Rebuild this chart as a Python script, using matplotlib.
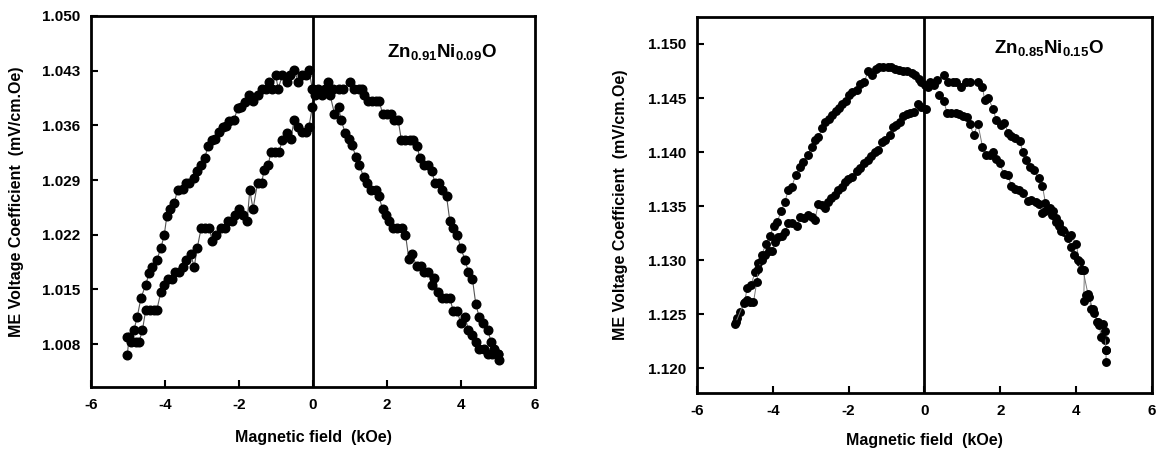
import matplotlib
matplotlib.use("Agg")
import matplotlib.pyplot as plt
from matplotlib import font_manager

# ---------------- data : Zn0.91Ni0.09O ----------------
a_x1 = [-5.02, -4.97, -4.84, -4.75, -4.65, -4.52, -4.43, -4.34, -4.22, -4.11, -4.02, -3.95, -3.86,
        -3.75, -3.66, -3.52, -3.43, -3.34, -3.21, -3.13, -3.02, -2.93, -2.83, -2.74, -2.64, -2.53,
        -2.43, -2.35, -2.26, -2.14, -2.03, -1.94, -1.85, -1.73, -1.62, -1.50, -1.39, -1.26, -1.20,
        -1.12, -1.01, -0.94, -0.83, -0.71, -0.63, -0.51, -0.40, -0.29, -0.20, -0.11, -0.02]
a_y1 = [1.0066, 1.0089, 1.0098, 1.0115, 1.0139, 1.0156, 1.0171, 1.0179, 1.0188, 1.0203, 1.0220,
        1.0244, 1.0253, 1.0261, 1.0277, 1.0278, 1.0286, 1.0286, 1.0292, 1.0301, 1.0309, 1.0318,
        1.0334, 1.0341, 1.0342, 1.0351, 1.0358, 1.0359, 1.0366, 1.0367, 1.0382, 1.0383, 1.0390,
        1.0399, 1.0391, 1.0399, 1.0407, 1.0407, 1.0416, 1.0407, 1.0424, 1.0407, 1.0424, 1.0416,
        1.0424, 1.0431, 1.0416, 1.0424, 1.0424, 1.0431, 1.0407]
a_x2 = [0.05, 0.24, 0.46, 0.58, 0.69, 0.76, 0.87, 0.96, 1.05, 1.16, 1.25, 1.37, 1.46, 1.58, 1.70,
        1.78, 1.88, 1.96, 2.05, 2.16, 2.27, 2.41, 2.50, 2.59, 2.68, 2.80, 2.91, 3.00, 3.12, 3.21,
        3.27, 3.39, 3.48, 3.59, 3.70, 3.79, 3.90, 3.99, 4.11, 4.20, 4.29, 4.40, 4.49, 4.63, 4.72,
        4.84, 4.99, 5.02]
a_y2 = [1.0399, 1.0399, 1.0399, 1.0375, 1.0383, 1.0367, 1.0350, 1.0343, 1.0335, 1.0320, 1.0309,
        1.0294, 1.0286, 1.0277, 1.0277, 1.0269, 1.0253, 1.0245, 1.0237, 1.0228, 1.0228, 1.0228,
        1.0220, 1.0189, 1.0195, 1.0180, 1.0180, 1.0172, 1.0172, 1.0156, 1.0164, 1.0147, 1.0139,
        1.0139, 1.0139, 1.0122, 1.0122, 1.0107, 1.0115, 1.0098, 1.0091, 1.0082, 1.0074, 1.0074,
        1.0067, 1.0067, 1.0067, 1.0060]
a_x3 = [0.00, 0.14, 0.33, 0.40, 0.55, 0.69, 0.82, 0.99, 1.10, 1.23, 1.32, 1.39, 1.49, 1.59, 1.70,
        1.79, 1.88, 2.00, 2.12, 2.18, 2.30, 2.39, 2.50, 2.61, 2.70, 2.82, 2.88, 3.00, 3.12, 3.21,
        3.30, 3.41, 3.50, 3.61, 3.70, 3.79, 3.90, 3.99, 4.11, 4.20, 4.31, 4.40, 4.49, 4.60, 4.72,
        4.82, 4.90, 5.00]
a_y3 = [1.0407, 1.0407, 1.0407, 1.0416, 1.0407, 1.0407, 1.0407, 1.0416, 1.0407, 1.0407, 1.0407,
        1.0399, 1.0391, 1.0391, 1.0391, 1.0391, 1.0375, 1.0375, 1.0375, 1.0367, 1.0367, 1.0341,
        1.0341, 1.0341, 1.0341, 1.0334, 1.0318, 1.0309, 1.0309, 1.0301, 1.0286, 1.0286, 1.0277,
        1.0269, 1.0237, 1.0228, 1.0220, 1.0203, 1.0188, 1.0172, 1.0163, 1.0131, 1.0115, 1.0107,
        1.0098, 1.0082, 1.0074, 1.0067]
a_x4 = [-0.02, -0.11, -0.20, -0.29, -0.40, -0.51, -0.60, -0.71, -0.83, -0.92, -1.03, -1.14, -1.21,
        -1.32, -1.39, -1.50, -1.62, -1.71, -1.78, -1.89, -2.01, -2.12, -2.19, -2.30, -2.39, -2.50,
        -2.62, -2.73, -2.80, -2.92, -3.02, -3.13, -3.21, -3.31, -3.43, -3.52, -3.61, -3.73, -3.82,
        -3.93, -4.02, -4.11, -4.22, -4.31, -4.40, -4.52, -4.61, -4.70, -4.79, -4.93, -5.02]
a_y4 = [1.0383, 1.0358, 1.0351, 1.0351, 1.0358, 1.0367, 1.0342, 1.0350, 1.0341, 1.0326, 1.0326,
        1.0326, 1.0309, 1.0303, 1.0286, 1.0286, 1.0253, 1.0277, 1.0237, 1.0245, 1.0253, 1.0245,
        1.0237, 1.0237, 1.0229, 1.0229, 1.0220, 1.0212, 1.0229, 1.0229, 1.0229, 1.0203, 1.0179,
        1.0195, 1.0188, 1.0179, 1.0172, 1.0172, 1.0163, 1.0163, 1.0156, 1.0147, 1.0124, 1.0124,
        1.0124, 1.0124, 1.0098, 1.0083, 1.0083, 1.0083, 1.0089]

# ---------------- data : Zn0.85Ni0.15O ----------------
b_x1 = [-4.97, -4.95, -4.86, -4.74, -4.68, -4.57, -4.47, -4.38, -4.29, -4.18, -4.07, -3.98, -3.89,
        -3.78, -3.68, -3.59, -3.50, -3.39, -3.28, -3.19, -3.08, -2.97, -2.89, -2.80, -2.69, -2.61,
        -2.52, -2.43, -2.34, -2.25, -2.17, -2.08, -1.99, -1.90, -1.79, -1.70, -1.59, -1.48, -1.38,
        -1.29, -1.20, -1.09, -0.97, -0.87, -0.78, -0.68, -0.56, -0.45, -0.34, -0.24, -0.15, -0.08,
        0.01, 0.10]
b_y1 = [1.1243, 1.1246, 1.1252, 1.1261, 1.1274, 1.1277, 1.1289, 1.1297, 1.1305, 1.1315, 1.1322,
        1.1332, 1.1335, 1.1345, 1.1354, 1.1365, 1.1368, 1.1379, 1.1386, 1.1391, 1.1397, 1.1405,
        1.1411, 1.1414, 1.1422, 1.1428, 1.1431, 1.1434, 1.1438, 1.1441, 1.1444, 1.1447, 1.1453,
        1.1456, 1.1457, 1.1463, 1.1465, 1.1475, 1.1471, 1.1477, 1.1479, 1.1479, 1.1479, 1.1479,
        1.1477, 1.1476, 1.1475, 1.1475, 1.1473, 1.1471, 1.1468, 1.1465, 1.1462, 1.1460]
b_x2 = [0.14, 0.25, 0.33, 0.51, 0.62, 0.74, 0.84, 0.97, 1.09, 1.19, 1.41, 1.53, 1.59, 1.68, 1.81,
        1.89, 2.03, 2.11, 2.20, 2.29, 2.38, 2.51, 2.60, 2.68, 2.79, 2.88, 3.02, 3.11, 3.19, 3.30,
        3.39, 3.47, 3.54, 3.61, 3.69, 3.87, 4.00, 4.09, 4.18, 4.31, 4.44, 4.57, 4.70, 4.76, 4.79,
        4.79]
b_y2 = [1.1465, 1.1462, 1.1467, 1.1471, 1.1465, 1.1465, 1.1465, 1.1460, 1.1465, 1.1465, 1.1465,
        1.1460, 1.1448, 1.1450, 1.1440, 1.1430, 1.1425, 1.1427, 1.1418, 1.1415, 1.1413, 1.1410,
        1.1400, 1.1393, 1.1386, 1.1383, 1.1376, 1.1369, 1.1353, 1.1348, 1.1345, 1.1339, 1.1334,
        1.1327, 1.1326, 1.1323, 1.1315, 1.1298, 1.1291, 1.1269, 1.1255, 1.1243, 1.1241, 1.1226,
        1.1217, 1.1206]
b_x3 = [0.39, 0.51, 0.60, 0.71, 0.82, 0.91, 1.02, 1.11, 1.19, 1.30, 1.41, 1.53, 1.63, 1.72, 1.81,
        1.89, 1.98, 2.09, 2.20, 2.29, 2.38, 2.49, 2.60, 2.73, 2.82, 2.93, 3.02, 3.11, 3.19, 3.28,
        3.37, 3.46, 3.54, 3.65, 3.78, 3.87, 3.94, 4.04, 4.13, 4.22, 4.20, 4.26, 4.35, 4.39, 4.48,
        4.55, 4.61, 4.66, 4.75, 4.79]
b_y3 = [1.1453, 1.1447, 1.1436, 1.1436, 1.1436, 1.1435, 1.1433, 1.1432, 1.1426, 1.1416, 1.1426,
        1.1405, 1.1397, 1.1397, 1.1400, 1.1394, 1.1390, 1.1380, 1.1379, 1.1369, 1.1366, 1.1365,
        1.1362, 1.1355, 1.1356, 1.1354, 1.1352, 1.1344, 1.1345, 1.1347, 1.1342, 1.1335, 1.1332,
        1.1328, 1.1320, 1.1312, 1.1305, 1.1300, 1.1291, 1.1291, 1.1262, 1.1268, 1.1266, 1.1255,
        1.1251, 1.1243, 1.1240, 1.1229, 1.1234, 1.1217]
b_x4 = [0.05, -0.08, -0.17, -0.27, -0.39, -0.47, -0.56, -0.65, -0.74, -0.82, -0.91, -1.03, -1.11,
        -1.22, -1.31, -1.41, -1.50, -1.59, -1.70, -1.79, -1.90, -2.01, -2.10, -2.18, -2.27, -2.36,
        -2.47, -2.55, -2.62, -2.71, -2.80, -2.89, -2.97, -3.06, -3.17, -3.28, -3.37, -3.48, -3.59,
        -3.68, -3.76, -3.85, -3.94, -4.03, -4.11, -4.20, -4.29, -4.38, -4.42, -4.51, -4.60, -4.68,
        -4.77, -4.99]
b_y4 = [1.1440, 1.1442, 1.1444, 1.1437, 1.1436, 1.1435, 1.1433, 1.1428, 1.1425, 1.1423, 1.1416,
        1.1411, 1.1409, 1.1402, 1.1400, 1.1396, 1.1393, 1.1390, 1.1385, 1.1382, 1.1377, 1.1375,
        1.1372, 1.1368, 1.1365, 1.1360, 1.1357, 1.1354, 1.1348, 1.1351, 1.1352, 1.1337, 1.1340,
        1.1342, 1.1339, 1.1340, 1.1332, 1.1334, 1.1334, 1.1326, 1.1322, 1.1321, 1.1317, 1.1308,
        1.1308, 1.1305, 1.1300, 1.1292, 1.1280, 1.1261, 1.1261, 1.1263, 1.1260, 1.1241]

x_ticks = [-6, -4, -2, 0, 2, 4, 6]
a_yticks = [1.008, 1.015, 1.022, 1.029, 1.036, 1.043, 1.050]
b_yticks = [1.120, 1.125, 1.130, 1.135, 1.140, 1.145, 1.150]
a_label = r'$\mathbf{Zn_{0.91}Ni_{0.09}O}$'
b_label = r'$\mathbf{Zn_{0.85}Ni_{0.15}O}$'
xlabel = 'Magnetic field  (kOe)'
ylabel = 'ME Voltage Coefficient  (mV/cm.Oe)'

# ---------------- style ----------------
names = {f.name for f in font_manager.fontManager.ttflist}
tick_family = 'Liberation Sans Narrow' if 'Liberation Sans Narrow' in names else 'Liberation Sans'
plt.rcParams['font.family'] = ['Liberation Sans', 'DejaVu Sans']
plt.rcParams['mathtext.fontset'] = 'custom'
plt.rcParams['mathtext.rm'] = 'Liberation Sans'
plt.rcParams['mathtext.bf'] = 'Liberation Sans:bold'

fig = plt.figure(figsize=(11.61, 4.54), dpi=100)
ax1 = fig.add_axes([0.0784, 0.1476, 0.3824, 0.8172])
ax2 = fig.add_axes([0.6003, 0.1344, 0.3919, 0.8282])


def style(ax, ylim, yticks, label, lx, ly):
    ax.set_xlim(-6, 6)
    ax.set_ylim(*ylim)
    ax.set_xticks(x_ticks)
    ax.set_xticklabels([str(t) for t in x_ticks])
    ax.set_yticks(yticks)
    ax.set_yticklabels(['%.3f' % t for t in yticks])
    ax.tick_params(direction='in', length=5, width=1.5, top=False, right=False, pad=8)
    for lab in ax.get_xticklabels() + ax.get_yticklabels():
        lab.set_fontfamily(tick_family)
        lab.set_fontweight('bold')
        lab.set_fontsize(11)
    for s in ax.spines.values():
        s.set_linewidth(2)
    ax.axvline(0, color='black', lw=2, zorder=1)
    ax.set_xlabel(xlabel, fontsize=11.5, fontweight='bold')
    ax.set_ylabel(ylabel, fontsize=11.5, fontweight='bold')
    ax.text(lx, ly, label, fontsize=13.5, ha='left', va='center')


for xs, ys in [(a_x1, a_y1), (a_x2, a_y2), (a_x3, a_y3), (a_x4, a_y4)]:
    ax1.plot(xs, ys, color='#555555', lw=0.8, marker='o', ms=6.2, mfc='black', mec='black',
             zorder=3)
for xs, ys in [(b_x1, b_y1), (b_x2, b_y2), (b_x3, b_y3), (b_x4, b_y4)]:
    ax2.plot(xs, ys, color='#777777', lw=0.7, marker='o', ms=5.4, mfc='black', mec='black',
             zorder=3)

style(ax1, (1.0025, 1.050), a_yticks, a_label, 2.0, 1.0454)
style(ax2, (1.1177, 1.1525), b_yticks, b_label, 1.84, 1.1496)
ax1.yaxis.set_label_coords(-0.151, 0.5)
ax2.yaxis.set_label_coords(-0.152, 0.5)
ax1.xaxis.set_label_coords(0.5, -0.116)
ax2.xaxis.set_label_coords(0.5, -0.106)

fig.savefig('out.png', dpi=100)
